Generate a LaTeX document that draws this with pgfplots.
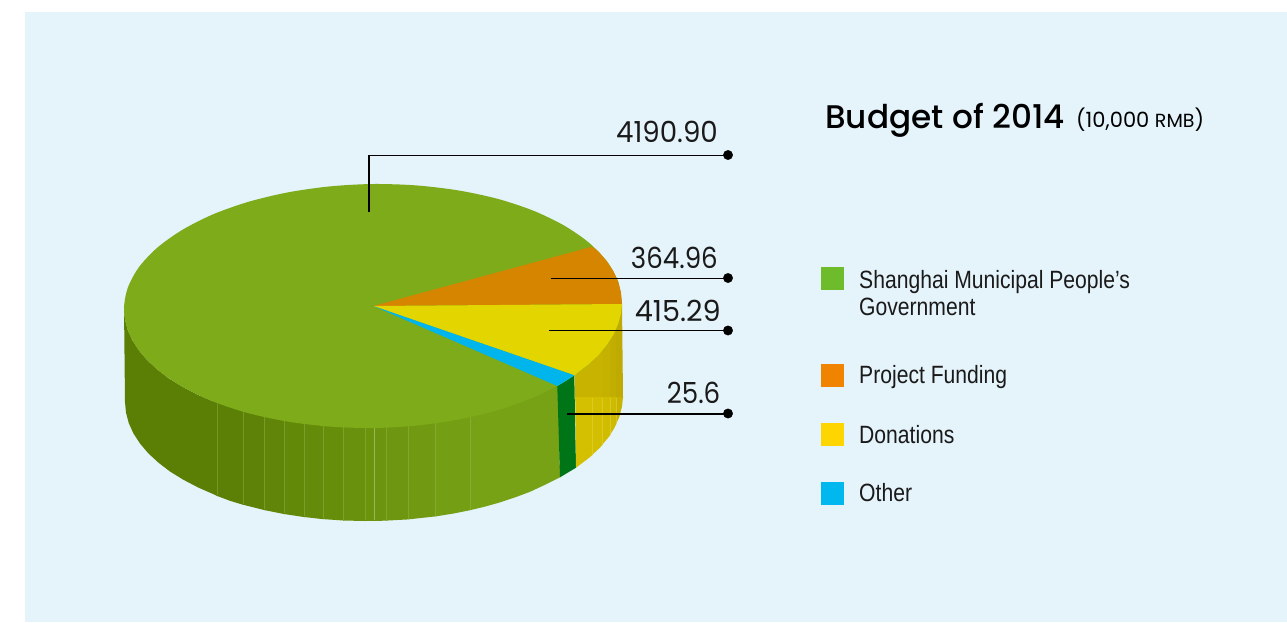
\documentclass[border=0pt]{standalone}
\usepackage{fontspec}
\usepackage{pgfplots}
\pgfplotsset{compat=1.18}
\setmainfont{Liberation Sans}
\newfontfamily\fut[FakeStretch=0.9]{Poppins}
\newfontfamily\titlefont{Poppins Medium}
\newfontfamily\subfont{Poppins}
\newfontfamily\legfont[FakeStretch=0.845]{Liberation Sans}

\definecolor{bg}{HTML}{E5F3FB}
\definecolor{topgreen}{HTML}{7DAB1A}
\definecolor{toporange}{HTML}{D58500}
\definecolor{topyellow}{HTML}{E3D500}
\definecolor{topblue}{HTML}{00B5EC}
\definecolor{walldark}{HTML}{007518}
\definecolor{leggreen}{HTML}{6EBB2B}
\definecolor{legorange}{HTML}{F08300}
\definecolor{legyellow}{HTML}{FFD500}
\definecolor{legblue}{HTML}{00B7EE}
\definecolor{txt}{HTML}{1A1A1A}
\definecolor{seamgreen}{HTML}{A4C264}
\definecolor{seamyellow}{HTML}{E6D84A}

\begin{document}
\begin{tikzpicture}
\begin{axis}[
    scale only axis,
    width=1287pt,
    height=622pt,
    xmin=0, xmax=1287,
    ymin=0, ymax=622,
    y dir=reverse,
    hide axis,
    clip=false,
]
% panel
\addplot[fill=white, draw=none] coordinates {(0,0) (1287,0) (1287,622) (0,622)};
\addplot[fill=bg, draw=none] coordinates {(25,12) (1287,12) (1287,622) (25,622)};

% left part of the wall
\addplot[fill={rgb,255:red,91;green,126;blue,5}, draw=none] coordinates {
  (124,306) (124,309) (125,319.6) (127.8,330.2) (132.5,340.5) (139,350.5) (147.3,360.3) (157.4,369.6)
  (169,378.5) (182.3,386.7) (197,394.4) (212.9,401.4) (217.5,400)
  (217.5,496.2) (213.9,494.4) (198,487.4) (183.3,479.7) (170,471.5) (158.4,462.6) (148.3,453.3)
  (140,443.5) (133.5,433.5) (128.8,423.2) (126,412.6) (125,402)};

% green wall strips
\addplot[fill={rgb,255:red,92;green,128;blue,6}, draw=none] coordinates {(217,398) (243.5,405) (243.5,504.9) (230,500.8) (217,495.9)};
\addplot[fill={rgb,255:red,94;green,130;blue,7}, draw=none] coordinates {(243,405) (264.5,410) (264.5,510.1) (243,504.7)};
\addplot[fill={rgb,255:red,96;green,133;blue,8}, draw=none] coordinates {(264,410) (284.5,415) (284.5,514.1) (264,510)};
\addplot[fill={rgb,255:red,99;green,137;blue,9}, draw=none] coordinates {(284,415) (304.5,418) (304.5,517.1) (284,514)};
\addplot[fill={rgb,255:red,101;green,139;blue,10}, draw=none] coordinates {(304,418) (323.5,420) (323.5,519.2) (304,517)};
\addplot[fill={rgb,255:red,103;green,142;blue,11}, draw=none] coordinates {(323,420) (343.5,421) (343.5,520.5) (323,519.1)};
\addplot[fill={rgb,255:red,105;green,145;blue,13}, draw=none] coordinates {(343,421) (365.5,422) (365.5,521) (343,520.5)};
\addplot[fill={rgb,255:red,107;green,147;blue,14}, draw=none] coordinates {(365,422) (374.5,422) (374.5,521) (365,521)};
\addplot[fill={rgb,255:red,108;green,148;blue,15}, draw=none] coordinates {(374,422) (386.5,422) (386.5,520.6) (374,521)};
\addplot[fill={rgb,255:red,110;green,150;blue,16}, draw=none] coordinates {(386,422) (408.5,420) (408.5,519.4) (386,520.6)};
\addplot[fill={rgb,255:red,113;green,154;blue,18}, draw=none] coordinates {(408,420) (435.5,418) (435.5,516.4) (408,519.4)};
\addplot[fill={rgb,255:red,116;green,158;blue,20}, draw=none] coordinates {(435,418) (470.5,410) (470.5,510.1) (453,513.6) (435,516.5)};
\addplot[fill={rgb,255:red,120;green,162;blue,21}, draw=none] coordinates {(470,410) (558,380) (560,477.3) (545,484.8) (530,491.8) (515,497.4) (500,502.4) (485,506.6) (470,510.2)};

% seams on the green wall
\addplot[seamgreen, line width=0.9pt, opacity=0.35] coordinates {(217,400) (217,495.2)};
\addplot[seamgreen, line width=0.9pt, opacity=0.35] coordinates {(243,405) (243,504)};
\addplot[seamgreen, line width=0.9pt, opacity=0.35] coordinates {(264,410) (264,509.3)};
\addplot[seamgreen, line width=0.9pt, opacity=0.35] coordinates {(284,415) (284,513.3)};
\addplot[seamgreen, line width=0.9pt, opacity=0.35] coordinates {(304,418) (304,516.3)};
\addplot[seamgreen, line width=0.9pt, opacity=0.35] coordinates {(323,420) (323,518.4)};
\addplot[seamgreen, line width=0.9pt, opacity=0.35] coordinates {(343,421) (343,519.8)};
\addplot[seamgreen, line width=0.9pt, opacity=0.35] coordinates {(365,422) (365,520.3)};
\addplot[seamgreen, line width=0.9pt, opacity=0.8] coordinates {(374,422) (374,520.3)};
\addplot[seamgreen, line width=0.9pt, opacity=0.35] coordinates {(386,422) (386,519.9)};
\addplot[seamgreen, line width=0.9pt, opacity=0.35] coordinates {(408,420) (408,518.7)};
\addplot[seamgreen, line width=0.9pt, opacity=0.35] coordinates {(435,418) (435,515.8)};
\addplot[seamgreen, line width=0.9pt, opacity=0.35] coordinates {(470,410) (470,509.5)};

% dark green wall of the small slice
\addplot[fill=walldark, draw=none] coordinates {(557.3,386) (574.3,375.3) (576,467.7) (560,477.3)};

% yellow wall, upper band
\addplot[fill={rgb,255:red,200;green,180;blue,0}, draw=none] coordinates {
  (574.5,375.3) (589,364) (592.3,360) (592.3,397.5) (575,397.5)};
\addplot[fill={rgb,255:red,199;green,179;blue,0}, draw=none] coordinates {
  (592,360) (602.3,350) (602.3,397.5) (592,397.5)};
\addplot[fill={rgb,255:red,197;green,177;blue,0}, draw=none] coordinates {
  (602,350) (610.3,338) (610.3,397.5) (602,397.5)};
\addplot[fill={rgb,255:red,194;green,174;blue,0}, draw=none] coordinates {
  (610,338) (616.3,328) (616.3,397.5) (610,397.5)};
\addplot[fill={rgb,255:red,190;green,170;blue,0}, draw=none] coordinates {
  (616,328) (622,304) (623,397.5) (616,397.5)};
% yellow wall, lower band
\addplot[fill={rgb,255:red,212;green,192;blue,0}, draw=none] coordinates {
  (575.2,397) (592.3,397) (592.3,455) (589.6,457.4) (576,467.7)};
\addplot[fill={rgb,255:red,211;green,191;blue,0}, draw=none] coordinates {
  (592,397) (602.3,397) (602.3,445) (599.7,447.9) (592,455)};
\addplot[fill={rgb,255:red,209;green,189;blue,0}, draw=none] coordinates {
  (602,397) (610.3,397) (610.3,435) (608,437.9) (602,445)};
\addplot[fill={rgb,255:red,206;green,186;blue,0}, draw=none] coordinates {
  (610,397) (616.3,397) (616.3,424) (614.5,427.7) (610,435)};
\addplot[fill={rgb,255:red,200;green,180;blue,0}, draw=none] coordinates {
  (616,397) (623,397) (622,406.6) (619.2,417.2) (616,424)};
% seams on the yellow wall
\addplot[seamyellow, line width=0.8pt, opacity=0.5] coordinates {(592,398) (592,454)};
\addplot[seamyellow, line width=0.8pt, opacity=0.5] coordinates {(602,398) (602,444)};
\addplot[seamyellow, line width=0.8pt, opacity=0.5] coordinates {(610,398) (610,434)};
\addplot[seamyellow, line width=0.8pt, opacity=0.5] coordinates {(616,398) (616,423)};

% top of the pie: whole disc, then the slices on it
\addplot[fill=topgreen, draw=none, smooth] coordinates {
  (622,304) (618.2,324.2) (607,344.9) (588.6,364.4) (563.7,382.1) (533.1,397.6)
  (497.5,410.2) (458.2,419.6) (416.2,425.6) (373,428) (329.8,426.6) (287.8,421.6)
  (248.5,413.2) (212.9,401.4) (182.3,386.7) (157.4,369.6) (139,350.5) (127.8,330.2)
  (124,309) (127.8,287.8) (139,267.1) (157.4,247.6) (182.3,229.9) (212.9,214.4)
  (248.5,201.8) (287.8,192.4) (329.8,186.4) (373,184) (416.2,185.4) (458.2,190.4)
  (497.5,198.8) (533.1,210.6) (563.7,225.3) (588.6,242.4) (607,261.5) (618.2,281.8)
  (622,304)};
\addplot[fill=toporange, draw=none] coordinates {
  (373.3,306) (592,246.7) (598.7,251.7) (607,261.5) (613.5,271.5) (618.2,281.8) (621,292.4) (622,304)};
\addplot[fill=topyellow, draw=none] coordinates {
  (373.3,306) (622,304) (621,313.6) (618.2,324.2) (613.5,334.7) (607,344.9) (598.7,354.9) (588.6,364.4) (574.3,375.3)};
\addplot[fill=topblue, draw=none] coordinates {
  (373.3,306) (574.3,375.3) (566.5,380.5) (557.3,386)};

% leader lines
\addplot[black, line width=1.1pt] coordinates {(369,212) (369,155.5) (728,155.5)};
\addplot[black, line width=1.1pt] coordinates {(551,278.3) (728,278.3)};
\addplot[black, line width=1.1pt] coordinates {(549,330.7) (728,330.7)};
\addplot[black, line width=1.1pt] coordinates {(567,414) (728,414)};
\addplot[only marks, mark=*, mark size=4.7pt, mark options={fill=black, draw=none}] coordinates {
  (728,155) (728,278) (728,330.5) (728,413.5)};

% legend swatches
\addplot[fill=leggreen, draw=none] coordinates {(821,267) (844,267) (844,290) (821,290)};
\addplot[fill=legorange, draw=none] coordinates {(821,364) (844,364) (844,387) (821,387)};
\addplot[fill=legyellow, draw=none] coordinates {(821,423) (844,423) (844,446) (821,446)};
\addplot[fill=legblue, draw=none] coordinates {(821,482) (844,482) (844,505) (821,505)};

% values
\node[anchor=base east, inner sep=0pt, text=txt, font=\fut\fontsize{29}{29}\selectfont] at (axis cs:718,142) {\scalebox{1.06}[1]{4190.90}};
\node[anchor=base east, inner sep=0pt, text=txt, font=\fut\fontsize{29}{29}\selectfont] at (axis cs:718,268.5) {364.96};
\node[anchor=base east, inner sep=0pt, text=txt, font=\fut\fontsize{29}{29}\selectfont] at (axis cs:721,321) {\scalebox{1.1}[1]{415.29}};
\node[anchor=base east, inner sep=0pt, text=txt, font=\fut\fontsize{29}{29}\selectfont] at (axis cs:720.5,403.5) {25.6};

% title
\node[anchor=base west, inner sep=0pt, text=black, font=\titlefont\fontsize{32.7}{33}\selectfont] at (axis cs:825,128) {Budget of 2014};
\node[anchor=base west, inner sep=0pt, text=black, font=\subfont\fontsize{21}{21}\selectfont] at (axis cs:1076,127.5) {(10,000 {\fontsize{19}{19}\selectfont RMB})};

% legend text
\node[anchor=base west, inner sep=0pt, text=txt, font=\legfont\fontsize{25}{25}\selectfont] at (axis cs:859,288) {Shanghai Municipal People’s};
\node[anchor=base west, inner sep=0pt, text=txt, font=\legfont\fontsize{25}{25}\selectfont] at (axis cs:859,315.7) {Government};
\node[anchor=base west, inner sep=0pt, text=txt, font=\legfont\fontsize{25}{25}\selectfont] at (axis cs:859,383) {Project Funding};
\node[anchor=base west, inner sep=0pt, text=txt, font=\legfont\fontsize{25}{25}\selectfont] at (axis cs:859,443.5) {Donations};
\node[anchor=base west, inner sep=0pt, text=txt, font=\legfont\fontsize{25}{25}\selectfont] at (axis cs:859,501) {Other};
\end{axis}
\end{tikzpicture}
\end{document}
